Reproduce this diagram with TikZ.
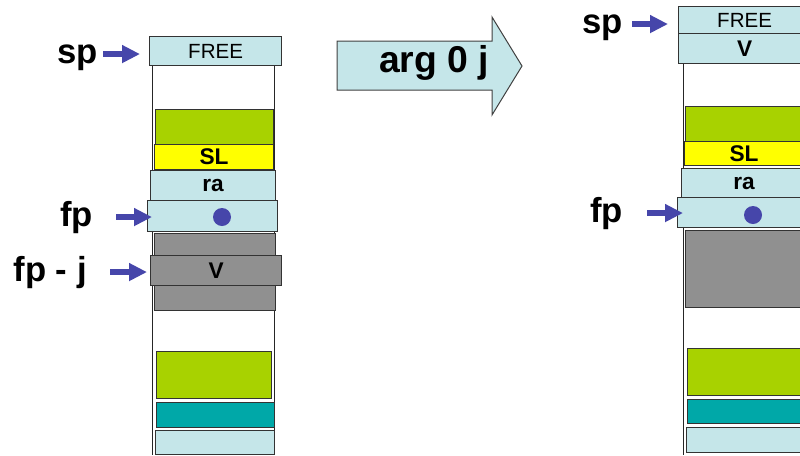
\documentclass[tikz,border=0pt]{standalone}
\usepackage{fontspec}
\setmainfont{Liberation Sans}
\usetikzlibrary{arrows.meta, positioning}
\newlength\px \setlength\px{0.75pt}
\definecolor{cellblue}{HTML}{C5E6E9}
\definecolor{cellgreen}{HTML}{A8D200}
\definecolor{cellyellow}{HTML}{FFFF00}
\definecolor{cellgray}{HTML}{909090}
\definecolor{cellteal}{HTML}{00A8A8}
\definecolor{ptrblue}{HTML}{4646AA}
\tikzstyle{cell} = [rectangle, draw=black!80, line width=1.2\px, inner sep=0pt,
  anchor=north west, font=\fontsize{17}{20}\selectfont\bfseries]
\tikzstyle{freecell} = [cell, fill=cellblue, font=\fontsize{15.4}{18}\selectfont]
\tikzstyle{wall} = [draw=black!85, line width=1\px]
\tikzstyle{lbl} = [inner sep=0pt, anchor=base east, font=\fontsize{26}{30}\selectfont\bfseries]
\tikzstyle{ptr} = [draw=ptrblue, line width=4.5pt, -{Triangle[length=13.5pt, width=12.75pt]}]
\tikzstyle{dot} = [circle, fill=ptrblue, inner sep=0pt, minimum size=18\px]
\tikzstyle{bigarrow} = [fill=cellblue, draw=black!75, line width=1\px]

\begin{document}
\begin{tikzpicture}[x=0.75pt, y=-0.75pt]
    \useasboundingbox (0,0) rectangle (800,455);
    \clip (0,0) rectangle (800,455);
    % stack before the instruction
    \draw[wall] (152.5,65) -- (152.5,455);
    \draw[wall] (274,65) -- (274,455);
    \node[freecell, minimum width=132\px, minimum height=29\px] (freeL) at (149,36) {FREE};
    \node[cell, fill=cellgreen, minimum width=118\px, minimum height=35\px] (greenL) at (155,109) {};
    \node[cell, fill=cellyellow, minimum width=119\px, minimum height=25\px] (slL) at (154,144) {SL};
    \node[cell, fill=cellblue, minimum width=125\px, minimum height=30\px] (raL) at (150,170) {ra};
    \node[cell, fill=cellblue, minimum width=130\px, minimum height=31\px] (fpboxL) at (147,200) {};
    \node[dot] (dotL) at (222,217) {};
    \node[cell, fill=cellgray, minimum width=121\px, minimum height=77\px] (grayL) at (154,233) {};
    \node[cell, fill=cellgray, minimum width=131\px, minimum height=30\px] (vL) at (150,255) {V};
    \node[cell, fill=cellgreen, minimum width=115\px, minimum height=47\px] (green2L) at (156,351) {};
    \node[cell, fill=cellteal, minimum width=118\px, minimum height=25\px] (tealL) at (156,402) {};
    \node[cell, fill=cellblue, minimum width=119\px, minimum height=24\px] (baseL) at (155,430) {};
    \node[lbl] (spL) at (98,63.5) {sp};
    \node[lbl] (fpL) at (93,226.5) {fp};
    \node[lbl] (fpjL) at (87,281.5) {fp - j};
    \draw[ptr, shorten <=3.75pt, shorten >=6.75pt] ([yshift=7.1pt]spL.base east) -- ([yshift=7.1pt]spL.base east -| freeL.west);
    \draw[ptr, shorten <=17.25pt, shorten >=-3.75pt] ([yshift=7.1pt]fpL.base east) -- ([yshift=7.1pt]fpL.base east -| fpboxL.west);
    \draw[ptr, shorten <=17.25pt, shorten >=2.25pt] ([yshift=7.1pt]fpjL.base east) -- ([yshift=7.1pt]fpjL.base east -| vL.west);
    % the instruction
    \draw[bigarrow] (337,41) -- (492,41) -- (492,17) -- (522,66) -- (492,115)
      -- (492,90) -- (337,90) -- cycle;
    \node[anchor=base, inner sep=0pt, font=\fontsize{28}{32}\selectfont\bfseries] (argop) at (434,72) {arg 0 j};
    % stack after the instruction
    \draw[wall] (683,63) -- (683,455);
    \node[freecell, minimum width=132\px, minimum height=27\px] (freeR) at (678,6) {FREE};
    \node[cell, fill=cellblue, minimum width=132\px, minimum height=30\px] (vR) at (678,33) {V};
    \node[cell, fill=cellgreen, minimum width=118\px, minimum height=35\px] (greenR) at (685,106) {};
    \node[cell, fill=cellyellow, minimum width=119\px, minimum height=24\px] (slR) at (684,141) {SL};
    \node[cell, fill=cellblue, minimum width=125\px, minimum height=29\px] (raR) at (681,168) {ra};
    \node[cell, fill=cellblue, minimum width=130\px, minimum height=30\px] (fpboxR) at (677,197) {};
    \node[dot] (dotR) at (753,215) {};
    \node[cell, fill=cellgray, minimum width=121\px, minimum height=77\px] (grayR) at (685,230) {};
    \node[cell, fill=cellgreen, minimum width=115\px, minimum height=47\px] (green2R) at (687,348) {};
    \node[cell, fill=cellteal, minimum width=118\px, minimum height=24\px] (tealR) at (687,399) {};
    \node[cell, fill=cellblue, minimum width=119\px, minimum height=25\px] (baseR) at (686,427) {};
    \node[lbl] (spR) at (623,33.5) {sp};
    \node[lbl] (fpR) at (623,222.5) {fp};
    \draw[ptr, shorten <=6.75pt, shorten >=7.5pt] ([yshift=7.1pt]spR.base east) -- ([yshift=7.1pt]spR.base east -| freeR.west);
    \draw[ptr, shorten <=18pt, shorten >=-4.5pt] ([yshift=7.1pt]fpR.base east) -- ([yshift=7.1pt]fpR.base east -| fpboxR.west);
  \end{tikzpicture}
\end{document}
